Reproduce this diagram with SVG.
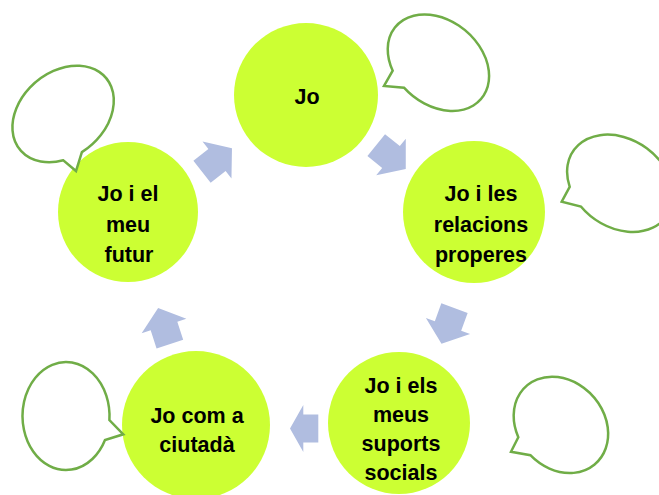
<svg xmlns="http://www.w3.org/2000/svg" width="659" height="495" viewBox="0 0 659 495">
<style>
.node{fill:#CCFF33;}
.lbl{font-family:"Liberation Sans",Arial,sans-serif;font-size:21.5px;font-weight:bold;fill:#000;text-anchor:middle;}
.arr{fill:#B0BDE0;}
.bub{fill:#fff;stroke:#70AD47;stroke-width:2.5;stroke-linejoin:miter;}
</style>
<defs>
<path id="ar" d="M19,0 L0,-23.5 L0,-14 L-19,-14 L-19,14 L0,14 L0,23.5 Z"/>
</defs>
<rect width="659" height="495" fill="#fff"/>
<g id="connectors">
<use href="#ar" class="arr" transform="translate(217,160) rotate(-38)"/>
<use href="#ar" class="arr" transform="translate(391,157) rotate(39)"/>
<use href="#ar" class="arr" transform="translate(448,326) rotate(110)"/>
<path class="arr" d="M290,428.5 L303.3,405 L303.3,414.5 L318.3,414.5 L318.3,442.5 L303.3,442.5 L303.3,452 Z"/>
<use href="#ar" class="arr" transform="translate(164,326) rotate(-108)"/>
</g>
<g id="n1">
<circle class="node" cx="306" cy="95" r="72"/>
<text class="lbl" x="307" y="103.5">Jo</text>
</g>
<g id="n2">
<circle class="node" cx="474" cy="212" r="71"/>
<text class="lbl" x="481" y="201">Jo i les</text>
<text class="lbl" x="481" y="231.5">relacions</text>
<text class="lbl" x="481" y="262">properes</text>
</g>
<g id="n3">
<circle class="node" cx="399" cy="423" r="71"/>
<text class="lbl" x="401" y="392.5">Jo i els</text>
<text class="lbl" x="401" y="421.5">meus</text>
<text class="lbl" x="401" y="450.5">suports</text>
<text class="lbl" x="401" y="479.5">socials</text>
</g>
<g id="n4">
<circle class="node" cx="196" cy="425" r="74"/>
<text class="lbl" x="197" y="422.5">Jo com a</text>
<text class="lbl" x="197" y="451.5">ciutadà</text>
</g>
<g id="n5">
<circle class="node" cx="128" cy="212" r="70"/>
<text class="lbl" x="128" y="201">Jo i el</text>
<text class="lbl" x="128" y="231.5">meu</text>
<text class="lbl" x="129" y="262">futur</text>
</g>
<g id="b1"><path class="bub" d="M392.7,70.7 A56,42 40 1 1 404,87.7 L384,86 Z"/></g>
<g id="b2"><path class="bub" d="M569.7,186.9 A57,44 35 1 1 580.9,206.5 L561.7,201.7 Z"/></g>
<g id="b3"><path class="bub" d="M518.3,437.2 A52,43 48 1 1 530.4,455.2 L511,451.7 Z"/></g>
<g id="b4"><path class="bub" d="M109.4,420 A43.5,54 0 1 0 105,440 L123.3,434.3 Z"/></g>
<g id="b5"><path class="bub" d="M63.3,160.3 A56,42 -40 1 1 81.9,152.1 L76,171 Z"/></g>
</svg>
